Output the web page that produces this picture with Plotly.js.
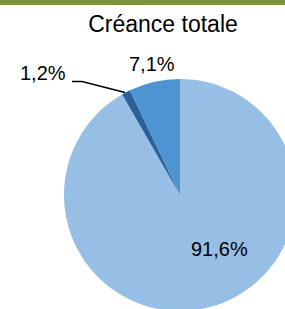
<!DOCTYPE html>
<html><head><meta charset="utf-8">
<script src="https://cdn.plot.ly/plotly-3.0.1.min.js"></script>
<style>html,body{margin:0;padding:0;overflow:hidden;background:#fff;width:285px;height:309px}</style>
</head><body><div id="chart"></div>
<script>
const labels = ["Autre", "Part B", "Part A"];
const values = [91.6, 1.2, 7.1];
const colors = ["#97BEE4", "#2A6199", "#4E93D2"];
const chartTitle = "Créance totale";
const fmt = v => v.toFixed(1).replace(".", ",") + "%";

const FONT = "Liberation Sans, Arial, sans-serif";
const trace = {
  type: "pie", labels: labels, values: values, sort: false,
  direction: "clockwise", rotation: 0,
  marker: {colors: colors, line: {width: 0}},
  textinfo: "none", hoverinfo: "none", showlegend: false
};
const layout = {
  width: 300, height: 315,
  margin: {l: 64, r: 4, t: 79, b: 4},
  paper_bgcolor: "#fff",
  title: {text: chartTitle, font: {family: FONT, size: 23, color: "#000"},
          x: 163/300, xref: "container", xanchor: "center",
          y: 1 - 24/315, yref: "container", yanchor: "middle"},
  annotations: [
    {text: fmt(values[2]), x: 88/232, y: 247/232, xref: "paper", yref: "paper", showarrow: false,
     font: {family: FONT, size: 20, color: "#000"}, xanchor: "center", yanchor: "middle"},
    {text: fmt(values[1]), x: -21.5/232, y: 238/232, xref: "paper", yref: "paper", showarrow: false,
     font: {family: FONT, size: 20, color: "#000"}, xanchor: "center", yanchor: "middle"},
    {text: fmt(values[0]), x: 155/232, y: 62/232, xref: "paper", yref: "paper", showarrow: false,
     font: {family: FONT, size: 20, color: "#000"}, xanchor: "center", yanchor: "middle"}
  ],
  shapes: [
    {type: "rect", xref: "paper", yref: "paper", x0: -64/232, x1: 240/232, y0: (311-0)/232, y1: (311-5)/232,
     fillcolor: "#76923C", line: {width: 0}},
    {type: "path", xref: "paper", yref: "paper",
     path: "M " + (8/232) + " " + (229.5/232) + " L " + (18/232) + " " + (229.5/232) + " L " + (61/232) + " " + (218.5/232),
     line: {color: "#000", width: 1.5}}
  ]
};
Plotly.newPlot("chart", [trace], layout, {staticPlot: true, displayModeBar: false});
</script></body></html>
